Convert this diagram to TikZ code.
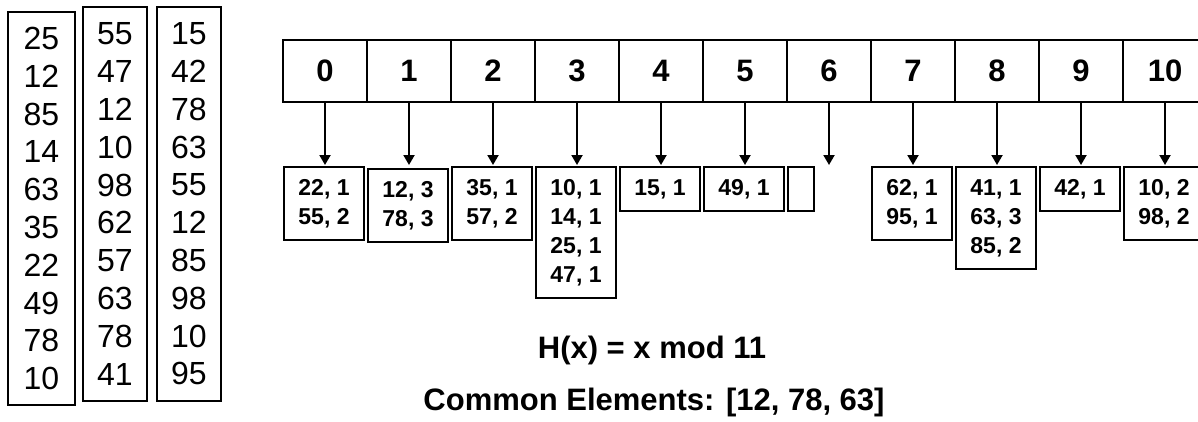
\documentclass[tikz,border=0pt]{standalone}
\usepackage{fontspec}
\setmainfont{Liberation Sans}
\usetikzlibrary{arrows.meta}
\begin{document}
\begin{tikzpicture}[x=1pt,y=-1pt,
  frame/.style={draw=black, line width=2pt, inner sep=0pt},
  numbox/.style={frame, align=center, font=\fontsize{32}{37.8}\selectfont},
  cell/.style={frame, minimum width=84pt, minimum height=62pt, font=\fontsize{31}{37}\selectfont\bfseries},
  bucket/.style={frame, anchor=north west, minimum width=80pt, align=center, font=\fontsize{23}{29}\selectfont\bfseries},
  arr/.style={line width=2pt, -{Triangle[width=11pt,length=10pt]}},
  caption/.style={font=\fontsize{31}{37}\selectfont\bfseries, inner sep=0pt}]
\useasboundingbox (0,0) rectangle (1198,421);
\clip (0,0) rectangle (1198,421);
% input arrays
\node[numbox, minimum width=67pt, minimum height=393pt] (l1) at (41.5,208.5) {25\\12\\85\\14\\63\\35\\22\\49\\78\\10};
\node[numbox, minimum width=64pt, minimum height=394pt] (l2) at (115,204) {55\\47\\12\\10\\98\\62\\57\\63\\78\\41};
\node[numbox, minimum width=64pt, minimum height=394pt] (l3) at (189,204) {15\\42\\78\\63\\55\\12\\85\\98\\10\\95};
% hash table cells and arrows
\foreach \i in {0,...,10} {
  \node[cell] (c\i) at ({325+84*\i},71) {\i};
  \coordinate (t\i) at ({325+84*\i},165);
  \draw[arr] (c\i.south) -- (t\i);
}
% buckets
\node[bucket, minimum height=73pt] (b0) at (283,166) {22, 1\\55, 2};
\node[bucket, minimum height=73pt] (b1) at (367,168) {12, 3\\78, 3};
\node[bucket, minimum height=73pt] (b2) at (451,166) {35, 1\\57, 2};
\node[bucket, minimum height=131pt] (b3) at (535,166) {10, 1\\14, 1\\25, 1\\47, 1};
\node[bucket, minimum height=44pt] (b4) at (619,166) {15, 1};
\node[bucket, minimum height=44pt] (b5) at (703,166) {49, 1};
\node[bucket, minimum width=26pt, minimum height=44pt] (b6) at (787,166) {};
\node[bucket, minimum height=73pt] (b7) at (871,166) {62, 1\\95, 1};
\node[bucket, minimum height=102pt] (b8) at (955,166) {41, 1\\63, 3\\85, 2};
\node[bucket, minimum height=44pt] (b9) at (1039,166) {42, 1};
\node[bucket, minimum height=73pt] (b10) at (1123,166) {10, 2\\98, 2};
% captions
\node[caption] (h) at (652,350) {H(x) = x mod 11};
\node[caption] (ce) at (654,402) {Common Elements: [12, 78, 63]};
\end{tikzpicture}
\end{document}
